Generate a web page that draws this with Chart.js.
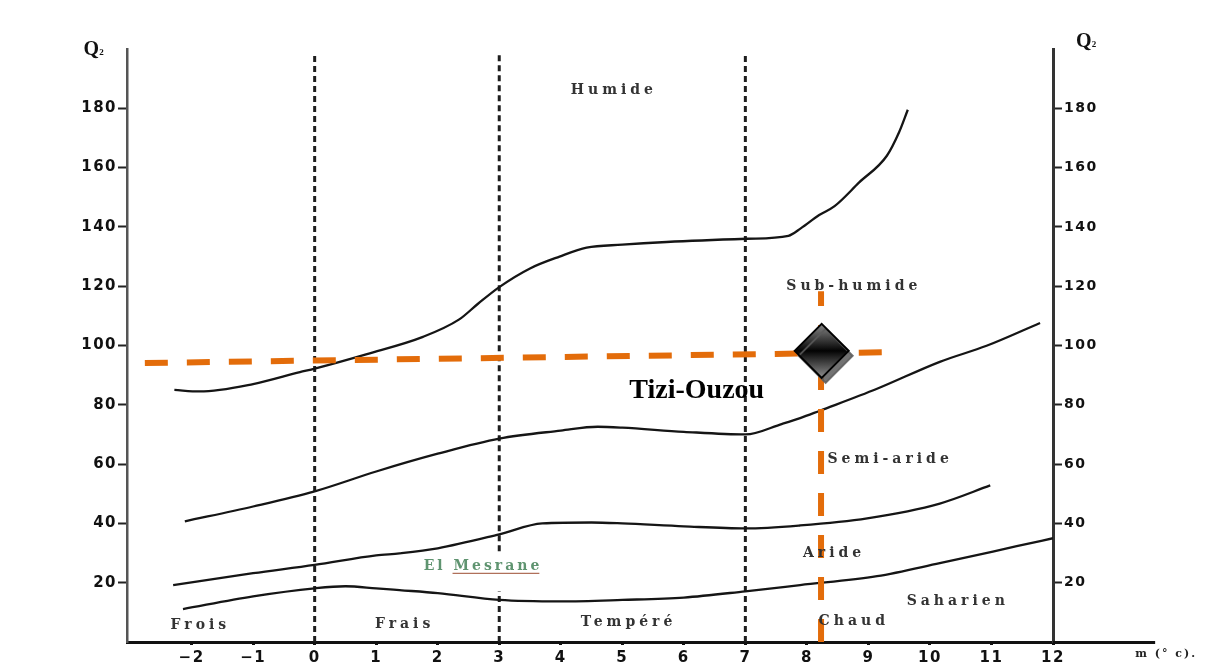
<!DOCTYPE html>
<html><head><meta charset="utf-8">
<script src="https://cdn.jsdelivr.net/npm/chart.js@4.4.1/dist/chart.umd.min.js"></script>
<style>html,body{margin:0;padding:0;background:#fff;overflow:hidden}</style>
</head><body>
<canvas id="c" width="1216" height="671"></canvas>
<script>
// ---- axes ----
const xMin = -3.05, xMax = 12, axisEndX = 13.66;
const yMin = 0, yMax = 200;
const xTicks = [-2,-1,0,1,2,3,4,5,6,7,8,9,10,11,12];
const xTickLabels = ['−2','−1','0','1','2','3','4','5','6','7','8','9','10','11','12'];
const yTicks = [20,40,60,80,100,120,140,160,180];
const yTickLabels = ['20','40','60','80','100','120','140','160','180'];

// ---- bioclimatic boundary curves (m in °C, Q2) ----
const humideX = [-2.28,-1.87,-1,-0.24,0,0.85,1.76,2.35,2.65,3,3.5,3.98,4.42,5,5.72,7.02,7.7,7.9,8.2,8.45,8.85,9.3,9.5,9.64];
const humideQ = [85,84.5,87,91,92.2,97.1,102.9,108.8,114,119.7,126,130,133,134,134.9,136,137,139.5,144,147,155,164,172,179.5];
const subHumideX = [-2.11,-1,0,1,2,3,4,4.6,5,6,7,7.6,7.89,8.21,9.14,10.16,10.92,11.79];
const subHumideQ = [40.7,45.7,50.8,57.5,63.5,68.6,71.3,72.6,72.3,70.9,70,73.6,75.5,78,85.4,94.5,99.9,107.6];
const semiArideX = [-2.3,-1,0,1,1.38,2,3,3.7,4.5,5,6,7,7.89,8.98,10.16,10.98];
const semiArideQ = [19.2,23.2,26,29.2,29.9,31.6,36.3,40,40.3,40,39,38.3,39.3,41.7,46.7,52.8];
const arideX = [-2.14,-1,0,0.5,1,1.38,2,3,4,5,6,7,7.89,9.14,10.16,11.41,12];
const arideQ = [11.1,15.4,18.1,18.8,18.1,17.5,16.5,14.2,13.7,14.2,15,17.1,19.2,22.2,26.6,32.3,35];

// ---- thermal limits (vertical dotted lines) ----
const thermalX = [0, 3, 7];
const thermalTopQ = 199;
const gap3From = 17, gap3To = 30.6;

// ---- station ----
const siteName = 'Tizi-Ouzou';
const siteM = 8.24, siteQ = 98.2;
const guideHX = [-2.76, 9.27], guideHQ = [94.1, 97.7];
const guideVX = [8.23, 8.23], guideVQ = [0, 118.3];
const siteLabelX = 6.21, siteLabelQ = 84.7;
const otherSite = 'El Mesrane', otherSiteX = 2.72, otherSiteQ = 25.5;

// ---- zone labels ----
const zoneNames = ['Humide','Sub-humide','Semi-aride','Aride','Saharien','Frois','Frais','Tempéré','Chaud'];
const zoneX = [4.83, 8.73, 9.32, 8.41, 10.42, -1.89, 1.43, 5.07, 8.73];
const zoneQ = [185.9, 120, 61.5, 29.9, 13.8, 5.7, 6.05, 6.7, 7.0];

// ---- axis titles ----
const axisTitle = 'Q', axisTitleSub = '2';
const axisTitleX = [-3.63, 12.5], axisTitleQ = [199.7, 202.4];
const xAxisTitle = 'm (° c).', xAxisTitleX = 13.84, xAxisTitleQ = -4;

const pts = (xs, qs) => xs.map((v, i) => ({x: v, y: qs[i]}));

const curveStyle = {showLine: true, borderColor: '#151515', borderWidth: 2.3, pointRadius: 0,
  cubicInterpolationMode: 'monotone', order: 2, fill: false};

const datasets = [
  {label: siteName, data: [{x: siteM, y: siteQ}], showLine: false, pointStyle: 'rectRot',
   pointRadius: 27, pointHoverRadius: 27, borderColor: '#000', borderWidth: 2, order: 0,
   backgroundColor: (c) => {
     const ch = c.chart;
     if (!ch.chartArea) return '#222';
     const yp = ch.scales.y.getPixelForValue(siteQ);
     const g = ch.ctx.createLinearGradient(0, yp - 27, 0, yp + 27);
     g.addColorStop(0, '#8a8a8a'); g.addColorStop(0.5, '#030303'); g.addColorStop(1, '#8f8f8f');
     return g;
   }},
  {label: 'guideH', data: pts(guideHX, guideHQ), showLine: true, borderColor: '#E36C0A',
   borderWidth: 6, borderDash: [23, 19], pointRadius: 0, order: 1},
  {label: 'guideV', data: pts(guideVX, guideVQ), showLine: true, borderColor: '#E36C0A',
   borderWidth: 6, borderDash: [23, 19], pointRadius: 0, order: 1},
  Object.assign({label: 'Humide', data: pts(humideX, humideQ)}, curveStyle),
  Object.assign({label: 'Sub-humide', data: pts(subHumideX, subHumideQ)}, curveStyle),
  Object.assign({label: 'Semi-aride', data: pts(semiArideX, semiArideQ)}, curveStyle),
  Object.assign({label: 'Aride', data: pts(arideX, arideQ)}, curveStyle),
];
thermalX.forEach((tx) => {
  const d = tx === 3
    ? [{x: tx, y: 0}, {x: tx, y: gap3From}, {x: tx, y: null}, {x: tx, y: gap3To}, {x: tx, y: thermalTopQ}]
    : [{x: tx, y: 0}, {x: tx, y: thermalTopQ}];
  datasets.push({label: 'm=' + tx, data: d, showLine: true, spanGaps: false, borderColor: '#1e1e1e',
    borderWidth: 3, borderDash: [6, 4], pointRadius: 0, order: 3});
});

const shadowPlugin = {
  id: 'shadow',
  beforeDatasetDraw(chart, args) {
    if (args.index === 0) {
      const ctx = chart.ctx; ctx.save();
      ctx.shadowColor = 'rgba(90,90,90,0.85)'; ctx.shadowOffsetX = 4; ctx.shadowOffsetY = 5; ctx.shadowBlur = 0;
    }
  },
  afterDatasetDraw(chart, args) { if (args.index === 0) chart.ctx.restore(); }
};

const textPlugin = {
  id: 'texts',
  beforeDraw(chart) { chart.ctx.letterSpacing = '1.5px'; },
  afterDraw(chart) {
    const {ctx, scales: {x, y}} = chart;
    const px = v => x.getPixelForValue(v), py = v => y.getPixelForValue(v);
    ctx.save();
    // x-axis continuation beyond m = 12
    ctx.strokeStyle = '#111'; ctx.lineWidth = 3;
    ctx.beginPath(); ctx.moveTo(px(xMax), py(0) + 0.5); ctx.lineTo(px(axisEndX), py(0) + 0.5); ctx.stroke();
    ctx.textBaseline = 'middle'; ctx.textAlign = 'center';
    // zone labels
    ctx.letterSpacing = '4px';
    ctx.fillStyle = '#333';
    ctx.font = 'bold 14px "DejaVu Serif"';
    zoneNames.forEach((n, i) => ctx.fillText(n, px(zoneX[i]) + 2, py(zoneQ[i])));
    // El Mesrane
    ctx.letterSpacing = '3px';
    ctx.fillStyle = '#5f9470';
    ctx.font = 'bold 14px "DejaVu Serif"';
    const ex = px(otherSiteX), ey = py(otherSiteQ);
    ctx.fillText(otherSite, ex + 1, ey);
    const w = ctx.measureText(otherSite).width;
    const wEl = ctx.measureText('El ').width;
    ctx.strokeStyle = '#b0705a'; ctx.lineWidth = 1.2;
    ctx.beginPath(); ctx.moveTo(ex - w / 2 + wEl, ey + 7); ctx.lineTo(ex + w / 2 - 2, ey + 7); ctx.stroke();
    // site label
    ctx.letterSpacing = '0px';
    ctx.fillStyle = '#000';
    ctx.font = 'bold 28px "Liberation Serif"';
    ctx.fillText(siteName, px(siteLabelX), py(siteLabelQ));
    // axis titles Q2
    axisTitleX.forEach((ax, i) => {
      const qx = px(ax), qy = py(axisTitleQ[i]);
      ctx.fillStyle = '#111';
      ctx.font = 'bold 20px "Liberation Serif"';
      ctx.textAlign = 'center';
      ctx.fillText(axisTitle, qx, qy);
      ctx.font = 'bold 9px "Liberation Serif"';
      ctx.textAlign = 'left';
      ctx.fillText(axisTitleSub, qx + 8, qy + 3);
    });
    // x-axis title
    ctx.letterSpacing = '2px';
    ctx.textAlign = 'center';
    ctx.fillStyle = '#222';
    ctx.font = 'bold 11px "DejaVu Serif"';
    ctx.fillText(xAxisTitle, px(xAxisTitleX), py(xAxisTitleQ));
    ctx.restore();
  }
};

const tickFont = {family: 'DejaVu Sans', weight: 'bold', size: 15};

new Chart(document.getElementById('c'), {
  type: 'scatter',
  data: {datasets},
  plugins: [shadowPlugin, textPlugin],
  options: {
    responsive: false, animation: false, events: [],
    layout: {padding: {top: 49, left: 0, right: 0, bottom: 0}},
    plugins: {legend: {display: false}, tooltip: {enabled: false}},
    scales: {
      x: {type: 'linear', position: 'bottom', min: xMin, max: xMax,
        afterBuildTicks: s => { s.ticks = xTicks.map(v => ({value: v})); },
        afterFit: s => { s.height = 27; },
        grid: {drawOnChartArea: false, drawTicks: true, tickLength: 3, tickWidth: 3, color: '#111'},
        border: {display: true, color: '#111', width: 3},
        ticks: {autoSkip: false, maxRotation: 0, minRotation: 0, padding: 4, color: '#111', font: tickFont,
          callback: v => { const i = xTicks.indexOf(v); return i >= 0 ? xTickLabels[i] : ''; }}
      },
      y: {type: 'linear', position: 'left', min: yMin, max: yMax,
        afterBuildTicks: s => { s.ticks = yTicks.map(v => ({value: v})); },
        afterFit: s => { s.width = 127; },
        grid: {drawOnChartArea: false, drawTicks: true, tickLength: 9, tickWidth: 2, color: '#222'},
        border: {display: true, color: '#555', width: 2.5},
        ticks: {padding: 1, color: '#111', font: tickFont,
          callback: v => { const i = yTicks.indexOf(v); return i >= 0 ? yTickLabels[i] : ''; }}
      },
      yR: {type: 'linear', position: 'right', min: yMin, max: yMax,
        afterBuildTicks: s => { s.ticks = yTicks.map(v => ({value: v})); },
        afterFit: s => { s.width = 163; },
        grid: {drawOnChartArea: false, drawTicks: true, tickLength: 9, tickWidth: 2, color: '#222'},
        border: {display: true, color: '#333', width: 3},
        ticks: {padding: 2, color: '#111', font: {family: 'DejaVu Sans', weight: 'bold', size: 14},
          callback: v => { const i = yTicks.indexOf(v); return i >= 0 ? yTickLabels[i] : ''; }}
      }
    }
  }
});
</script>
</body></html>
